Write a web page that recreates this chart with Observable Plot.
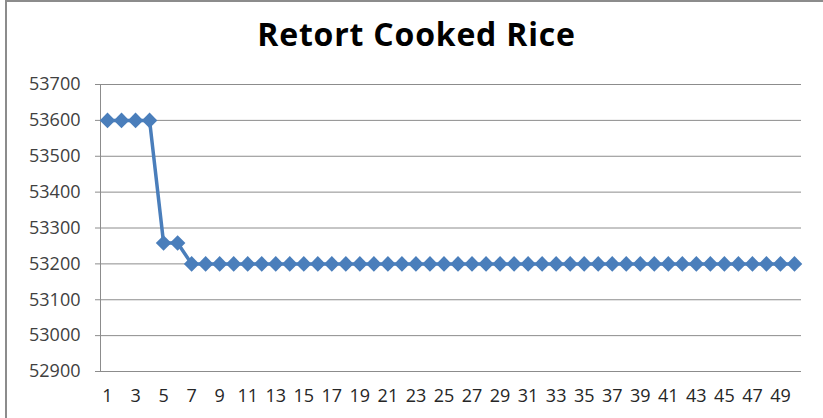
<!DOCTYPE html>
<html>
<head>
<meta charset="utf-8">
<script src="https://cdn.jsdelivr.net/npm/d3@7"></script>
<script src="https://cdn.jsdelivr.net/npm/@observablehq/plot@0.6"></script>
<style>
  html, body { margin: 0; padding: 0; background: #fff; }
  #frame { position: relative; width: 823px; height: 418px; overflow: hidden; background: #fff; }
  #frame::before { content: ""; position: absolute; left: 5px; top: 0; right: 0; height: 2px; background: #8c8c8c; }
  #frame::after { content: ""; position: absolute; left: 5px; top: 0; bottom: 0; width: 2px; background: #8c8c8c; }
  #title { height: 65px; box-sizing: border-box; padding-top: 14px; text-align: center;
           font-family: "Open Sans", sans-serif; font-weight: 700; font-size: 32px; line-height: 40px; color: #000;
           padding-left: 10px; letter-spacing: 0.8px; }
  #chart svg { display: block; }
</style>
</head>
<body>
<div id="frame">
  <div id="title">Retort Cooked Rice</div>
  <div id="chart"></div>
</div>
<script>
const points = d3.range(1, 51);
const values = [
  53600, 53600, 53600, 53600, 53258, 53258, 53200, 53200, 53200, 53200,
  53200, 53200, 53200, 53200, 53200, 53200, 53200, 53200, 53200, 53200,
  53200, 53200, 53200, 53200, 53200, 53200, 53200, 53200, 53200, 53200,
  53200, 53200, 53200, 53200, 53200, 53200, 53200, 53200, 53200, 53200,
  53200, 53200, 53200, 53200, 53200, 53200, 53200, 53200, 53200, 53200
];
const yTicks = [52900, 53000, 53100, 53200, 53300, 53400, 53500, 53600, 53700];
const xTicks = d3.range(1, 50, 2);

const data = points.map((p, i) => ({x: p, y: values[i]}));
const blue = "#4a7ebb";

const chart = Plot.plot({
  width: 823,
  height: 353,
  marginTop: 19,
  marginBottom: 47,
  marginLeft: 100,
  marginRight: 22,
  style: {fontFamily: "'Open Sans', sans-serif", fontSize: "18px", color: "#404040", background: "transparent"},
  x: {domain: [0.5, 50.5], label: null},
  y: {domain: [52900, 53700], label: null},
  marks: [
    Plot.gridY(yTicks, {stroke: "#8c8c8c", strokeOpacity: 1, strokeWidth: 1}),
    Plot.ruleX([0.5], {stroke: "#8c8c8c", strokeWidth: 1}),
    Plot.axisY({ticks: yTicks, tickSize: 5, tickPadding: 15, stroke: "#8c8c8c", tickFormat: d => String(d), fill: "#404040"}),
    Plot.axisX({ticks: xTicks, tickSize: 0, tickPadding: 18, tickFormat: d => String(d), fill: "#262626"}),
    Plot.line(data, {x: "x", y: "y", stroke: blue, strokeWidth: 3.5}),
    Plot.dot(data, {x: "x", y: "y", symbol: "diamond2", r: 7, fill: blue, stroke: "none"})
  ]
});
document.getElementById("chart").appendChild(chart);
</script>
</body>
</html>
